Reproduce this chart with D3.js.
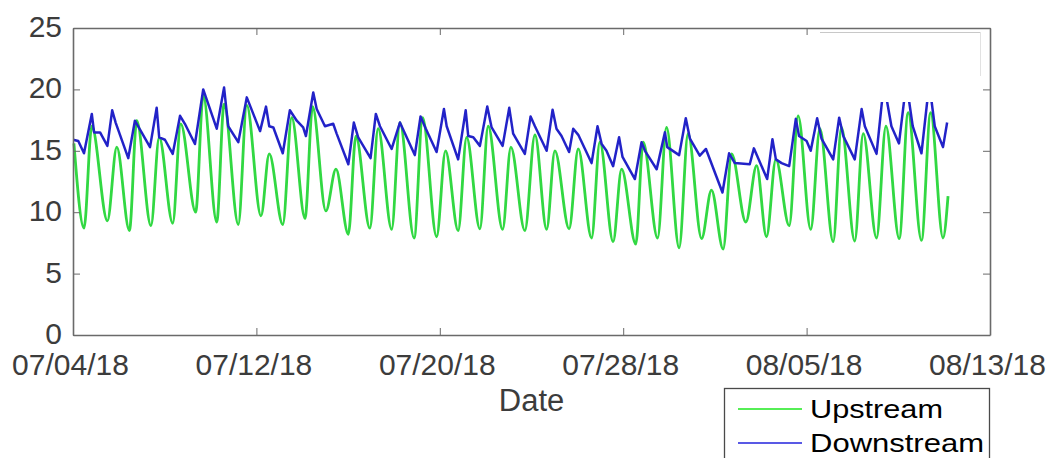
<!DOCTYPE html>
<html>
<head>
<meta charset="utf-8">
<script src="https://cdn.jsdelivr.net/npm/d3@7"></script>
<style>
  html, body { margin: 0; padding: 0; background: #fff; }
  svg { display: block; font-family: "Liberation Sans", Arial, Helvetica, sans-serif; }
</style>
</head>
<body>
<svg id="chart" width="1055" height="458"></svg>
<script>
// Time is in days since 07/04/18 00:00, values are temperatures.
const upT = [
  0.04, 0.48, 0.82, 1.50, 1.91, 2.46, 2.78, 3.40, 3.76, 4.35,
  4.70, 5.35, 5.68, 6.27, 6.59, 7.21, 7.58, 8.20, 8.56, 9.15,
  9.54, 10.12, 10.45, 11.03, 11.47, 12.01, 12.34, 12.95, 13.31, 13.90,
  14.26, 14.88, 15.25, 15.86, 16.25, 16.80, 17.17, 17.75, 18.11, 18.74,
  19.10, 19.71, 20.15, 20.66, 21.02, 21.64, 22.04, 22.62, 22.98, 23.56,
  23.93, 24.55, 24.87, 25.50, 25.89, 26.44, 26.83, 27.42, 27.85, 28.36,
  28.73, 29.35, 29.82, 30.25, 30.66, 31.24, 31.63, 32.18, 32.58, 33.16,
  33.52, 34.10, 34.47, 35.05, 35.46, 36.04, 36.43, 37.01, 37.41, 37.95,
  38.17
];
const upV = [
  15.6, 8.7, 17.0, 9.3, 15.3, 8.5, 17.45, 8.9, 16.1, 9.1,
  17.2, 10.0, 19.5, 9.2, 18.8, 9.0, 18.7, 9.7, 14.75, 9.0,
  17.7, 9.5, 18.6, 10.1, 13.5, 8.2, 16.2, 8.7, 16.8, 8.6,
  17.3, 7.9, 17.7, 8.0, 15.0, 8.5, 16.1, 8.65, 17.0, 8.6,
  15.3, 8.5, 16.3, 8.6, 15.0, 8.65, 15.15, 7.9, 15.7, 7.6,
  13.5, 7.4, 15.7, 7.9, 16.9, 7.1, 16.4, 7.85, 11.8, 7.0,
  14.75, 9.2, 13.8, 8.0, 14.3, 8.9, 17.85, 8.6, 16.8, 7.6,
  16.9, 7.65, 16.4, 7.9, 17.0, 7.85, 18.1, 7.7, 18.1, 7.9,
  11.3
];
const downT = [
  0.01, 0.23, 0.48, 0.82, 0.92, 1.18, 1.50, 1.71, 1.86, 2.41,
  2.70, 3.36, 3.65, 3.76, 4.01, 4.35, 4.67, 4.88, 5.32, 5.68,
  6.27, 6.59, 6.77, 7.21, 7.58, 8.16, 8.42, 8.56, 8.74, 9.15,
  9.46, 9.76, 10.04, 10.16, 10.48, 10.63, 10.99, 11.35, 11.50, 12.01,
  12.25, 12.44, 12.98, 13.21, 13.39, 13.90, 14.26, 14.91, 15.16, 15.39,
  15.86, 16.18, 16.30, 16.80, 17.13, 17.24, 17.46, 17.75, 18.07, 18.26,
  18.74, 19.03, 19.20, 19.71, 19.96, 20.15, 20.66, 20.92, 21.09, 21.31,
  21.64, 21.82, 22.04, 22.62, 22.88, 23.06, 23.27, 23.56, 23.82, 23.97,
  24.51, 24.80, 24.95, 25.46, 25.82, 25.92, 26.44, 26.73, 26.91, 27.34,
  27.61, 28.33, 28.62, 28.87, 29.52, 29.70, 30.28, 30.51, 30.66, 30.91,
  31.24, 31.53, 31.67, 32.00, 32.18, 32.46, 32.65, 33.16, 33.42, 33.60,
  34.10, 34.40, 34.54, 35.05, 35.37, 35.70, 36.03, 36.35, 36.63, 37.01,
  37.35, 37.59, 37.95, 38.13
];
const downV = [
  15.9, 15.8, 14.8, 18.0, 16.5, 16.5, 15.4, 18.3, 17.3, 14.4,
  17.45, 15.3, 18.5, 16.1, 15.9, 14.75, 17.85, 17.2, 15.55, 20.0,
  16.8, 20.15, 17.0, 15.7, 19.35, 16.6, 18.6, 17.0, 16.9, 14.8,
  18.3, 17.45, 16.9, 16.2, 19.75, 18.4, 17.0, 17.2, 16.4, 13.9,
  17.3, 16.1, 14.4, 18.0, 17.0, 15.15, 17.3, 14.65, 17.8, 16.8,
  14.9, 18.4, 17.0, 14.3, 18.3, 16.2, 16.1, 15.4, 18.6, 16.9,
  15.4, 18.5, 16.4, 14.75, 17.8, 17.0, 15.0, 18.35, 16.8, 16.2,
  14.9, 16.8, 16.3, 14.0, 17.0, 15.55, 15.0, 13.75, 16.1, 14.5,
  12.7, 15.7, 15.0, 13.5, 16.5, 15.3, 14.65, 17.65, 16.0, 14.6,
  15.15, 11.6, 14.8, 14.0, 13.9, 15.2, 12.7, 15.95, 14.3, 14.0,
  13.75, 17.6, 16.2, 15.8, 15.0, 17.65, 16.0, 14.3, 17.7, 16.2,
  14.3, 18.4, 17.0, 14.75, 20.5, 17.0, 15.6, 20.6, 17.0, 14.8,
  20.5, 17.0, 15.3, 17.3
];
const seriesNames = ["Upstream", "Downstream"];
const xTickLabels = ["07/04/18", "07/12/18", "07/20/18", "07/28/18", "08/05/18", "08/13/18"];
const yTicks = [0, 5, 10, 15, 20, 25];
const xTitle = "Date";

const parseTick = d3.timeParse("%m/%d/%y");
const fmtTick = d3.timeFormat("%m/%d/%y");
const start = parseTick(xTickLabels[0]);
const toDate = t => new Date(start.getTime() + t * 86400000);

const upstream = d3.zip(upT, upV).map(([t, v]) => ({ date: toDate(t), value: v }));
const downstream = d3.zip(downT, downV).map(([t, v]) => ({ date: toDate(t), value: v }));

const svg = d3.select("#chart");
const W = 1055, H = 458;
const plot = { left: 73, right: 990, top: 28, bottom: 335 };

svg.append("rect").attr("width", W).attr("height", H).attr("fill", "#fff");

// slight softening of the plotted traces
svg.append("defs").append("filter")
  .attr("id", "soft")
  .attr("x", "-5%").attr("y", "-5%").attr("width", "110%").attr("height", "110%")
  .append("feGaussianBlur").attr("stdDeviation", 0.55);

const x = d3.scaleTime()
  .domain([start, parseTick(xTickLabels[xTickLabels.length - 1])])
  .range([plot.left, plot.right]);
const y = d3.scaleLinear()
  .domain([yTicks[0], yTicks[yTicks.length - 1]])
  .range([plot.bottom, plot.top]);

const axisColor = "#6a6a6a";
const labelColor = "#3c3c3c";
const tickDates = xTickLabels.map(parseTick);

// data lines
const upLine = d3.line().x(d => x(d.date)).y(d => y(d.value)).curve(d3.curveMonotoneX);
const downLine = d3.line().x(d => x(d.date)).y(d => y(d.value));

const traces = svg.append("g").attr("filter", "url(#soft)");

traces.append("path").datum(upstream)
  .attr("d", upLine)
  .attr("fill", "none")
  .attr("stroke", "#30d842")
  .attr("stroke-width", 2.8)
  .attr("stroke-linejoin", "round");

traces.append("path").datum(downstream)
  .attr("d", downLine)
  .attr("fill", "none")
  .attr("stroke", "#2424c8")
  .attr("stroke-width", 2.5)
  .attr("stroke-linejoin", "round");

// blank panel left in the upper right corner of the axes
svg.append("rect")
  .attr("x", 820).attr("y", 32).attr("width", 160).attr("height", 70)
  .attr("fill", "#fff");
svg.append("line")
  .attr("x1", 820).attr("x2", 980).attr("y1", 32.5).attr("y2", 32.5)
  .attr("stroke", "#c8c8c8").attr("stroke-width", 1);
svg.append("line")
  .attr("x1", 980.5).attr("x2", 980.5).attr("y1", 32).attr("y2", 76)
  .attr("stroke", "#e2e2e2").attr("stroke-width", 1);

// axes (box style, inward ticks)
function styleAxis(g) {
  g.selectAll(".domain").attr("stroke", axisColor).attr("stroke-width", 1.6);
  g.selectAll(".tick line").attr("stroke", axisColor).attr("stroke-width", 1);
  g.selectAll(".tick text")
    .attr("fill", labelColor)
    .style("font-size", "30px")
    .style("font-family", "'Liberation Sans', Arial, sans-serif");
}

svg.append("g")
  .attr("transform", `translate(0,${plot.bottom})`)
  .call(d3.axisBottom(x).tickValues(tickDates).tickFormat(fmtTick)
    .tickSizeInner(-7).tickSizeOuter(0).tickPadding(19))
  .call(styleAxis)
  .call(g => g.selectAll(".tick text").attr("dx", "-3"));

svg.append("g")
  .attr("transform", `translate(0,${plot.top})`)
  .call(d3.axisTop(x).tickValues(tickDates).tickFormat("")
    .tickSizeInner(-7).tickSizeOuter(0))
  .call(styleAxis);

svg.append("g")
  .attr("transform", `translate(${plot.left},0)`)
  .call(d3.axisLeft(y).tickValues(yTicks).tickFormat(d3.format("d"))
    .tickSizeInner(-7).tickSizeOuter(0).tickPadding(11))
  .call(styleAxis)
  .call(g => g.selectAll(".tick text").attr("dy", "0.28em"));

svg.append("g")
  .attr("transform", `translate(${plot.right},0)`)
  .call(d3.axisRight(y).tickValues(yTicks).tickFormat("")
    .tickSizeInner(-7).tickSizeOuter(0))
  .call(styleAxis);

// x axis title
svg.append("text")
  .attr("x", (plot.left + plot.right) / 2)
  .attr("y", 411)
  .attr("text-anchor", "middle")
  .attr("fill", labelColor)
  .style("font-size", "31px")
  .text(xTitle);

// legend
const legend = svg.append("g");
legend.append("rect")
  .attr("x", 724.5).attr("y", 388.5)
  .attr("width", 265).attr("height", 90)
  .attr("fill", "#fff")
  .attr("stroke", "#4a4a4a").attr("stroke-width", 1.3);

const legendItems = [
  { name: seriesNames[0], color: "#1ee81e", y: 409, width: 133 },
  { name: seriesNames[1], color: "#2222dd", y: 443, width: 174 }
];
legendItems.forEach(item => {
  legend.append("line")
    .attr("x1", 738).attr("x2", 802)
    .attr("y1", item.y).attr("y2", item.y)
    .attr("stroke", item.color).attr("stroke-width", 1.6);
  legend.append("text")
    .attr("x", 810).attr("y", item.y + 9)
    .attr("fill", "#000")
    .attr("textLength", item.width)
    .attr("lengthAdjust", "spacingAndGlyphs")
    .style("font-size", "26px")
    .text(item.name);
});
</script>
</body>
</html>
